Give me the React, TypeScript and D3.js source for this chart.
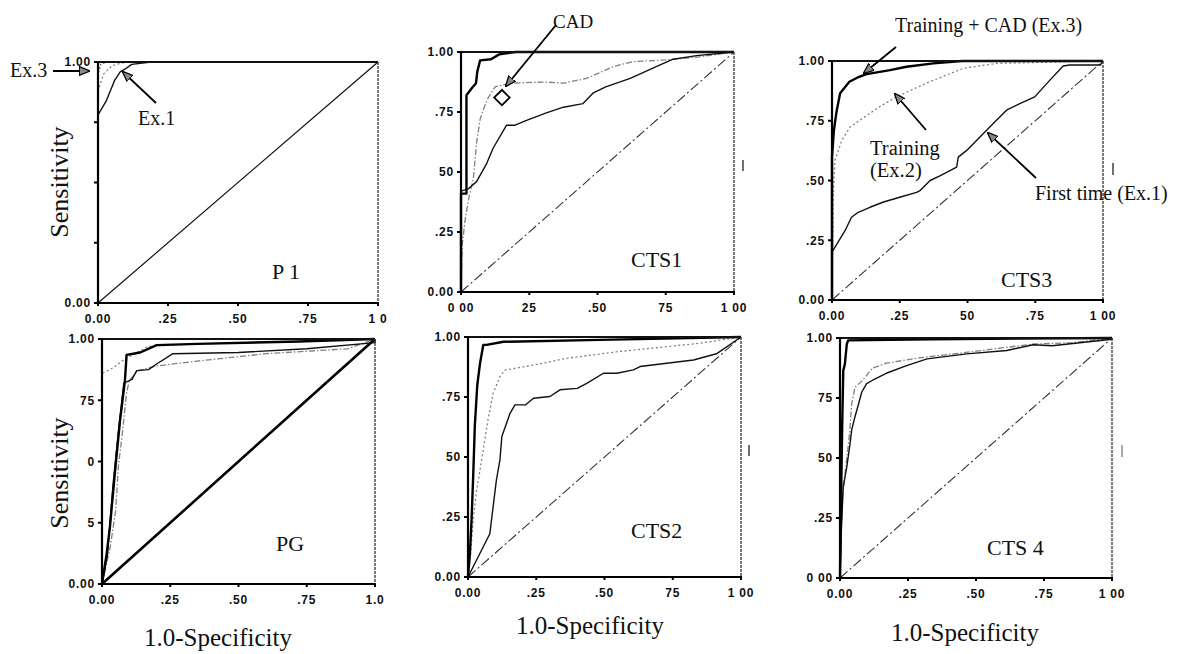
import React from "react";
import * as d3 from "d3";

type Pt = [number, number];

const tickValues = [0, 0.25, 0.5, 0.75, 1];

// ---------- P1 ----------
const p1Ex1: Pt[] = [[0, 0], [0, 0.78], [0.03, 0.84], [0.06, 0.925], [0.08, 0.96], [0.096, 0.97], [0.12, 0.99], [0.19, 1], [1, 1]];
const p1Ex2: Pt[] = [[0, 0], [0, 0.88], [0.02, 0.95], [0.05, 0.985], [0.1, 1], [1, 1]];
const p1Ex3: Pt[] = [[0, 0], [0, 0.95], [0.01, 0.99], [0.03, 1], [1, 1]];
const p1XLabels = ["0.00", ".25", ".50", ".75", "1 0"];
const p1YLabels = ["0.00", "", "", "", "1.00"];

// ---------- CTS1 ----------
const cts1Ex1: Pt[] = [[0, 0], [0, 0.42], [0.027, 0.43], [0.057, 0.46], [0.094, 0.535], [0.118, 0.6], [0.167, 0.695], [0.198, 0.695], [0.24, 0.715], [0.31, 0.745], [0.375, 0.77], [0.447, 0.785], [0.485, 0.83], [0.53, 0.855], [0.62, 0.89], [0.717, 0.94], [0.777, 0.97], [0.863, 0.985], [1, 1]];
const cts1Ex2: Pt[] = [[0, 0], [0.005, 0.2], [0.015, 0.3], [0.03, 0.4], [0.045, 0.47], [0.057, 0.62], [0.07, 0.72], [0.085, 0.77], [0.1, 0.81], [0.125, 0.855], [0.18, 0.87], [0.31, 0.875], [0.375, 0.87], [0.46, 0.89], [0.56, 0.94], [0.63, 0.96], [0.75, 0.967], [0.875, 0.98], [1, 1]];
const cts1Ex3: Pt[] = [[0, 0], [0, 0.41], [0.02, 0.41], [0.02, 0.82], [0.04, 0.85], [0.055, 0.87], [0.06, 0.92], [0.07, 0.965], [0.11, 0.97], [0.14, 0.99], [0.2, 1], [1, 1]];
const cts1XLabels = ["0 00", "25", ".50", "75", "1 00"];
const cts1YLabels = ["0.00", ".25", "50", ".75", "1.00"];
const cadPoint: Pt = [0.15, 0.81];

// ---------- CTS3 ----------
const cts3Ex1: Pt[] = [[0, 0], [0, 0.2], [0.048, 0.29], [0.072, 0.346], [0.097, 0.367], [0.14, 0.388], [0.19, 0.41], [0.25, 0.43], [0.312, 0.45], [0.325, 0.458], [0.362, 0.5], [0.4, 0.52], [0.46, 0.556], [0.466, 0.598], [0.497, 0.626], [0.546, 0.682], [0.595, 0.738], [0.644, 0.794], [0.693, 0.822], [0.748, 0.85], [0.804, 0.92], [0.853, 0.979], [0.877, 0.983], [0.99, 0.983], [1, 1]];
const cts3Ex2: Pt[] = [[0, 0], [0.005, 0.45], [0.011, 0.584], [0.036, 0.668], [0.067, 0.724], [0.103, 0.752], [0.177, 0.81], [0.238, 0.85], [0.36, 0.913], [0.484, 0.969], [0.607, 0.99], [1, 1]];
const cts3Ex3: Pt[] = [[0, 0], [0, 0.6], [0.007, 0.71], [0.017, 0.79], [0.03, 0.865], [0.064, 0.913], [0.1, 0.934], [0.128, 0.945], [0.214, 0.962], [0.275, 0.976], [0.374, 0.99], [0.48, 1], [1, 1]];
const cts3XLabels = ["0.00", ".25", "50", ".75", "1 00"];
const cts3YLabels = ["0.00", ".25", ".50", ".75", "1.00"];

// ---------- PG ----------
const pgEx1: Pt[] = [[0, 0], [0.02, 0.12], [0.04, 0.4], [0.06, 0.62], [0.08, 0.82], [0.11, 0.835], [0.127, 0.871], [0.17, 0.875], [0.2, 0.898], [0.26, 0.94], [0.5, 0.945], [0.75, 0.96], [1, 0.985], [1, 1]];
const pgEx2: Pt[] = [[0, 0], [0.03, 0.15], [0.05, 0.3], [0.06, 0.48], [0.075, 0.62], [0.09, 0.78], [0.1, 0.83], [0.13, 0.87], [0.2, 0.89], [0.35, 0.91], [0.6, 0.94], [0.9, 0.96], [1, 1]];
const pgEx3: Pt[] = [[0, 0], [0.017, 0.123], [0.029, 0.232], [0.048, 0.463], [0.066, 0.667], [0.084, 0.83], [0.09, 0.935], [0.14, 0.945], [0.2, 0.975], [0.35, 0.98], [0.72, 0.99], [1, 1]];
const pgEx4: Pt[] = [[0, 0], [0, 0.86], [0.011, 0.865], [0.043, 0.884], [0.073, 0.91], [0.104, 0.93], [0.17, 0.97], [0.35, 0.98], [0.72, 0.99], [1, 1]];
const pgXLabels = ["0.00", ".25", ".50", ".75", "1.0"];
const pgYLabels = ["0.00", "5", "0", "75", "1.00"];

// ---------- CTS2 ----------
const cts2Ex1: Pt[] = [[0, 0], [0.08, 0.18], [0.086, 0.237], [0.104, 0.404], [0.117, 0.488], [0.124, 0.585], [0.154, 0.682], [0.172, 0.717], [0.21, 0.717], [0.24, 0.745], [0.3, 0.752], [0.337, 0.78], [0.4, 0.786], [0.435, 0.807], [0.496, 0.849], [0.545, 0.849], [0.606, 0.863], [0.63, 0.877], [0.826, 0.904], [0.91, 0.93], [1, 1]];
const cts2Ex2: Pt[] = [[0, 0], [0.01, 0.1], [0.02, 0.25], [0.03, 0.35], [0.05, 0.4875], [0.073, 0.654], [0.092, 0.765], [0.117, 0.835], [0.135, 0.862], [0.24, 0.883], [0.36, 0.911], [0.55, 0.939], [0.85, 0.974], [1, 1]];
const cts2Ex3: Pt[] = [[0, 0], [0.007, 0.099], [0.013, 0.237], [0.019, 0.42], [0.025, 0.63], [0.034, 0.8], [0.044, 0.89], [0.056, 0.967], [0.068, 0.967], [0.13, 0.98], [0.483, 0.988], [1, 1]];
const cts2XLabels = ["0.00", ".25", ".50", "75", "1 00"];
const cts2YLabels = ["0.00", ".25", "50", ".75", "1.00"];

// ---------- CTS 4 ----------
const cts4Ex1: Pt[] = [[0, 0], [0.005, 0.2], [0.012, 0.38], [0.025, 0.463], [0.037, 0.56], [0.043, 0.617], [0.055, 0.672], [0.067, 0.72], [0.08, 0.775], [0.098, 0.81], [0.12, 0.824], [0.17, 0.853], [0.245, 0.885], [0.32, 0.913], [0.466, 0.934], [0.613, 0.948], [0.71, 0.972], [0.78, 0.968], [1, 0.995], [1, 1]];
const cts4Ex2: Pt[] = [[0, 0], [0.005, 0.2], [0.01, 0.35], [0.02, 0.45], [0.035, 0.6], [0.043, 0.726], [0.055, 0.795], [0.08, 0.82], [0.12, 0.875], [0.17, 0.895], [0.29, 0.917], [0.5, 0.945], [0.71, 0.975], [0.85, 0.98], [1, 1]];
const cts4Ex3: Pt[] = [[0, 0], [0.005, 0.4], [0.008, 0.63], [0.012, 0.864], [0.018, 0.893], [0.025, 0.975], [0.03, 0.99], [0.33, 0.995], [1, 1]];
const cts4XLabels = ["0.00", ".25", ".50", ".75", "1 00"];
const cts4YLabels = ["0 00", ".25", "50", "75", "1.00"];

const diagonal: Pt[] = [[0, 0], [1, 1]];

type SeriesStyle = { stroke: string; width: number; dash?: string };
const sEx1: SeriesStyle = { stroke: "#111", width: 1.4 };
const sEx2: SeriesStyle = { stroke: "#808080", width: 1.3, dash: "6,2,1.5,2" };
const sEx2dot: SeriesStyle = { stroke: "#808080", width: 1.3, dash: "2,2.5" };
const sEx3: SeriesStyle = { stroke: "#000", width: 2.4 };
const sDiag: SeriesStyle = { stroke: "#333", width: 1.1, dash: "10,3,2,3" };

type Panel = {
  name: string;
  left: number; right: number; top: number; bottom: number;
  series: { data: Pt[]; style: SeriesStyle }[];
  xLabels: string[]; yLabels: string[];
  label: string; labelX: number; labelY: number;
};

const panels: Panel[] = [
  {
    name: "p1", left: 98, right: 378, top: 62, bottom: 303,
    series: [
      { data: diagonal, style: { stroke: "#111", width: 1.2 } },
      { data: p1Ex2, style: sEx2dot },
      { data: p1Ex3, style: { stroke: "#555", width: 1.3, dash: "1.5,2" } },
      { data: p1Ex1, style: sEx1 },
    ],
    xLabels: p1XLabels, yLabels: p1YLabels, label: "P 1", labelX: 272, labelY: 279,
  },
  {
    name: "cts1", left: 461, right: 734, top: 52, bottom: 292,
    series: [
      { data: diagonal, style: sDiag },
      { data: cts1Ex2, style: sEx2 },
      { data: cts1Ex1, style: sEx1 },
      { data: cts1Ex3, style: sEx3 },
    ],
    xLabels: cts1XLabels, yLabels: cts1YLabels, label: "CTS1", labelX: 631, labelY: 267,
  },
  {
    name: "cts3", left: 832, right: 1103, top: 61, bottom: 300,
    series: [
      { data: diagonal, style: sDiag },
      { data: cts3Ex2, style: sEx2dot },
      { data: cts3Ex1, style: sEx1 },
      { data: cts3Ex3, style: sEx3 },
    ],
    xLabels: cts3XLabels, yLabels: cts3YLabels, label: "CTS3", labelX: 1001, labelY: 287,
  },
  {
    name: "pg", left: 102, right: 375, top: 339, bottom: 584,
    series: [
      { data: diagonal, style: { stroke: "#000", width: 2.6 } },
      { data: pgEx4, style: sEx2dot },
      { data: pgEx2, style: sEx2 },
      { data: pgEx1, style: sEx1 },
      { data: pgEx3, style: sEx3 },
    ],
    xLabels: pgXLabels, yLabels: pgYLabels, label: "PG", labelX: 276, labelY: 551,
  },
  {
    name: "cts2", left: 468, right: 741, top: 337, bottom: 577,
    series: [
      { data: diagonal, style: sDiag },
      { data: cts2Ex2, style: sEx2dot },
      { data: cts2Ex1, style: sEx1 },
      { data: cts2Ex3, style: sEx3 },
    ],
    xLabels: cts2XLabels, yLabels: cts2YLabels, label: "CTS2", labelX: 631, labelY: 538,
  },
  {
    name: "cts4", left: 840, right: 1112, top: 338, bottom: 578,
    series: [
      { data: diagonal, style: sDiag },
      { data: cts4Ex2, style: sEx2 },
      { data: cts4Ex1, style: sEx1 },
      { data: cts4Ex3, style: sEx3 },
    ],
    xLabels: cts4XLabels, yLabels: cts4YLabels, label: "CTS 4", labelX: 987, labelY: 555,
  },
];

const serif = "'Liberation Serif', 'Times New Roman', 'DejaVu Serif', serif";
const sans = "'Liberation Sans', Arial, Helvetica, sans-serif";

function PanelView({ p }: { p: Panel }) {
  const x = d3.scaleLinear().domain([0, 1]).range([p.left, p.right]);
  const y = d3.scaleLinear().domain([0, 1]).range([p.bottom, p.top]);
  const line = d3.line<Pt>().x((d) => x(d[0])).y((d) => y(d[1]));
  return (
    <g>
      {p.series.map((s, i) => (
        <path key={i} d={line(s.data) || ""} fill="none" stroke={s.style.stroke}
          strokeWidth={s.style.width} strokeDasharray={s.style.dash}
          strokeLinejoin="round" strokeLinecap="butt" />
      ))}
      {/* frame */}
      <line x1={p.left} x2={p.right} y1={p.top} y2={p.top} stroke="#111" strokeWidth={1.8} />
      <line x1={p.right} x2={p.right} y1={p.top} y2={p.bottom} stroke="#333" strokeWidth={1.3} strokeDasharray="3,1" />
      <line x1={p.left} x2={p.left} y1={p.top - 1} y2={p.bottom + 1} stroke="#000" strokeWidth={2.2} />
      <line x1={p.left - 1} x2={p.right + 1} y1={p.bottom} y2={p.bottom} stroke="#000" strokeWidth={2.2} />
      {tickValues.map((t, i) => (
        <g key={"y" + i}>
          <line x1={p.left - 4} x2={p.left} y1={y(t)} y2={y(t)} stroke="#000" strokeWidth={2} />
          <text x={p.left - 7} y={y(t)} dy="0.36em" textAnchor="end" fontFamily={sans}
            fontWeight="bold" fontSize={12} letterSpacing={0.8} fill="#111">{p.yLabels[i]}</text>
        </g>
      ))}
      {tickValues.map((t, i) => (
        <g key={"x" + i}>
          <line x1={x(t)} x2={x(t)} y1={p.bottom} y2={p.bottom + 3} stroke="#000" strokeWidth={2} />
          <text x={x(t)} y={p.bottom + 20} textAnchor="middle" fontFamily={sans}
            fontWeight="bold" fontSize={12} letterSpacing={0.8} fill="#111">{p.xLabels[i]}</text>
        </g>
      ))}
      <text x={p.labelX} y={p.labelY} fontFamily={serif} fontSize={22} fill="#111">{p.label}</text>
    </g>
  );
}

function Arrow({ x1, y1, x2, y2 }: { x1: number; y1: number; x2: number; y2: number }) {
  return <line x1={x1} y1={y1} x2={x2} y2={y2} stroke="#000" strokeWidth={1.8} markerEnd="url(#ah)" />;
}

export default function App() {
  const cts1 = panels[1];
  const cx = d3.scaleLinear().domain([0, 1]).range([cts1.left, cts1.right]);
  const cy = d3.scaleLinear().domain([0, 1]).range([cts1.bottom, cts1.top]);
  const diamond = d3.symbol().type(d3.symbolSquare).size(120)();
  return (
    <svg width={1178} height={654} style={{ position: "absolute", left: 0, top: 0, background: "#fff" }}>
      <defs>
        <marker id="ah" viewBox="0 0 10 10" refX="9" refY="5" markerWidth="6" markerHeight="6" orient="auto">
          <path d="M0,1 L10,5 L0,9 z" fill="#888" stroke="#000" strokeWidth={1.2} />
        </marker>
      </defs>
      <rect x={0} y={0} width={1178} height={654} fill="#fff" />
      {panels.map((p) => <PanelView key={p.name} p={p} />)}

      {/* CAD point */}
      <path d={diamond || ""} transform={`translate(${cx(cadPoint[0])},${cy(cadPoint[1])}) rotate(45)`}
        fill="#fff" stroke="#000" strokeWidth={1.8} />

      {/* Axis titles */}
      <text transform="translate(68,182) rotate(-90)" textAnchor="middle" fontFamily={serif} fontSize={26} fill="#111">Sensitivity</text>
      <text transform="translate(68,473) rotate(-90)" textAnchor="middle" fontFamily={serif} fontSize={26} fill="#111">Sensitivity</text>
      <text x={218} y={646} textAnchor="middle" fontFamily={serif} fontSize={25} fill="#111">1.0-Specificity</text>
      <text x={590} y={634} textAnchor="middle" fontFamily={serif} fontSize={25} fill="#111">1.0-Specificity</text>
      <text x={965} y={641} textAnchor="middle" fontFamily={serif} fontSize={25} fill="#111">1.0-Specificity</text>

      {/* Annotations */}
      <text x={10} y={77} fontFamily={serif} fontSize={20} fill="#111">Ex.3</text>
      <Arrow x1={53} y1={71} x2={89} y2={71} />
      <text x={138} y={125} fontFamily={serif} fontSize={20} fill="#111">Ex.1</text>
      <Arrow x1={156} y1={103} x2={123} y2={72} />
      <text x={553} y={28} fontFamily={serif} fontSize={19} fill="#111">CAD</text>
      <Arrow x1={556} y1={25} x2={506} y2={86} />
      <text x={895} y={32} fontFamily={serif} fontSize={20} fill="#111">Training + CAD (Ex.3)</text>
      <Arrow x1={896} y1={47} x2={864} y2={73} />
      <text x={870} y={155} fontFamily={serif} fontSize={20.5} fill="#111">Training</text>
      <text x={870} y={177} fontFamily={serif} fontSize={20.5} fill="#111">(Ex.2)</text>
      <Arrow x1={926} y1={130} x2={895} y2={94} />
      <text x={1035} y={200} fontFamily={serif} fontSize={20} fill="#111">First time (Ex.1)</text>
      <Arrow x1={1036} y1={178} x2={988} y2={133} />

      {/* stray marks on the right of panels */}
      <line x1={743} x2={743} y1={160} y2={171} stroke="#222" strokeWidth={1.3} />
      <line x1={1113} x2={1113} y1={163} y2={175} stroke="#222" strokeWidth={1.3} />
      <line x1={749} x2={749} y1={445} y2={456} stroke="#222" strokeWidth={1.3} />
      <line x1={1122} x2={1122} y1={445} y2={457} stroke="#555" strokeWidth={1} />
    </svg>
  );
}
